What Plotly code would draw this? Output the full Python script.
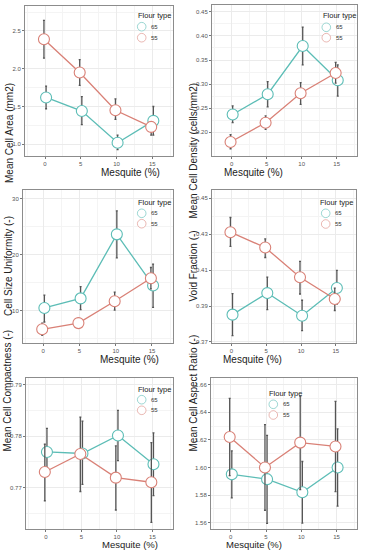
import plotly.graph_objects as go

W, H = 365, 550

mesquite = [0, 5, 10, 15]
flour_types = ["65", "55"]
legend_title = "Flour type"

# Panel 1: Mean Cell Area (mm2)
area_65 = [1.62, 1.44, 1.02, 1.31]
area_65_hi = [1.77, 1.63, 1.12, 1.50]
area_65_lo = [1.47, 1.26, 0.93, 1.12]
area_55 = [2.39, 1.95, 1.45, 1.23]
area_55_hi = [2.64, 2.12, 1.60, 1.27]
area_55_lo = [2.14, 1.78, 1.33, 1.12]

# Panel 2: Mean Cell Density (cells/mm2)
dens_65 = [0.237, 0.279, 0.379, 0.308]
dens_65_hi = [0.255, 0.305, 0.418, 0.340]
dens_65_lo = [0.220, 0.253, 0.340, 0.275]
dens_55 = [0.180, 0.220, 0.281, 0.323]
dens_55_hi = [0.195, 0.234, 0.303, 0.345]
dens_55_lo = [0.166, 0.206, 0.258, 0.302]

# Panel 3: Cell Size Uniformity (-)
unif_65 = [10.5, 12.2, 23.6, 14.5]
unif_65_hi = [12.8, 14.3, 27.8, 18.3]
unif_65_lo = [8.0, 10.2, 19.4, 10.6]
unif_55 = [6.7, 7.8, 11.7, 15.8]
unif_55_hi = [7.8, 8.7, 13.3, 17.7]
unif_55_lo = [5.6, 7.0, 10.1, 13.9]

# Panel 4: Void Fraction (-)
void_65 = [0.3852, 0.3972, 0.3846, 0.4000]
void_65_hi = [0.3969, 0.4061, 0.3932, 0.4098]
void_65_lo = [0.3735, 0.3880, 0.3763, 0.3910]
void_55 = [0.4311, 0.4226, 0.4060, 0.3939]
void_55_hi = [0.4393, 0.4274, 0.4148, 0.4000]
void_55_lo = [0.4232, 0.4170, 0.3967, 0.3875]

# Panel 5: Mean Cell Compactness (-)
comp_65 = [0.7769, 0.7766, 0.7801, 0.7745]
comp_65_hi = [0.7815, 0.7829, 0.7850, 0.7806]
comp_65_lo = [0.7723, 0.7706, 0.7752, 0.7684]
comp_55 = [0.7730, 0.7765, 0.7719, 0.7710]
comp_55_hi = [0.7784, 0.7837, 0.7781, 0.7787]
comp_55_lo = [0.7674, 0.7692, 0.7656, 0.7632]

# Panel 6: Mean Cell Aspect Ratio (-)
asp_65 = [1.595, 1.5915, 1.582, 1.600]
asp_65_hi = [1.612, 1.6232, 1.6043, 1.628]
asp_65_lo = [1.578, 1.5595, 1.5597, 1.572]
asp_55 = [1.622, 1.600, 1.618, 1.6152]
asp_55_hi = [1.650, 1.631, 1.6515, 1.6479]
asp_55_lo = [1.594, 1.569, 1.584, 1.5825]

x_title = "Mesquite (%)"
y_titles = ["Mean Cell Area (mm2)", "Mean Cell Density (cells/mm2)",
            "Cell Size Uniformity (-)", "Void Fraction (-)",
            "Mean Cell Compactness (-)", "Mean Cell Aspect Ratio (-)"]
y_ticks = [[1.0, 1.5, 2.0, 2.5], [0.20, 0.25, 0.30, 0.35, 0.40, 0.45],
           [10, 20, 30], [0.37, 0.39, 0.41, 0.43, 0.45],
           [0.77, 0.78, 0.79], [1.56, 1.58, 1.60, 1.62, 1.64, 1.66]]
y_ticktext = [["1.0", "1.5", "2.0", "2.5"],
              ["0.20", "0.25", "0.30", "0.35", "0.40", "0.45"],
              ["10", "20", "30"],
              ["0.37", "0.39", "0.41", "0.43", "0.45"],
              ["0.77", "0.78", "0.79"],
              ["1.56", "1.58", "1.60", "1.62", "1.64", "1.66"]]
x_ticktext = ["0", "5", "10", "15"]

panels = [
    (area_65, area_65_hi, area_65_lo, area_55, area_55_hi, area_55_lo),
    (dens_65, dens_65_hi, dens_65_lo, dens_55, dens_55_hi, dens_55_lo),
    (unif_65, unif_65_hi, unif_65_lo, unif_55, unif_55_hi, unif_55_lo),
    (void_65, void_65_hi, void_65_lo, void_55, void_55_hi, void_55_lo),
    (comp_65, comp_65_hi, comp_65_lo, comp_55, comp_55_hi, comp_55_lo),
    (asp_65, asp_65_hi, asp_65_lo, asp_55, asp_55_hi, asp_55_lo),
]

# layout (pixels): left, right, top, bottom of each plotting panel
boxes = [(25, 173, 6, 156), (212, 357, 5, 156),
         (23, 173, 190, 343), (212, 356, 190, 343),
         (26, 173, 378, 529), (211, 357, 378, 529)]
y_ranges = [(0.845, 2.83), (0.151, 0.464), (4.26, 31.5),
            (0.3694, 0.4546), (0.7619, 0.7913), (1.5554, 1.6648)]
ytitle_x = [10, 193, 8.5, 193, 7, 192.5]
xtitle_y = [172, 172, 359, 359, 544.5, 544.5]
xtitle_size = [10, 10, 10, 10, 9.5, 9.5]
# legend: title-left x, title y, symbol x, item ys
legend_px = [(136, 15.7, 141.7, (26.7, 37.7)),
             (320.5, 15.3, 326.3, (27.3, 37.7)),
             (136, 202.3, 141.7, (213.3, 223.7)),
             (318.3, 202.7, 325.7, (213.3, 224.0)),
             (136, 389, 141.7, (399.7, 410.3)),
             (267.3, 393.3, 273.3, (404.3, 415.0))]

col = {"65": "#5cbdb6", "55": "#d98076"}
col_pale = {"65": "rgba(92,189,182,0.6)", "55": "rgba(217,128,118,0.55)"}
dodge = {"65": 0.15, "55": -0.15}
x_range = [-2.8, 17.9]

fig = go.Figure()
layout = dict(width=W, height=H,
              margin=dict(l=0, r=0, t=0, b=0, pad=0, autoexpand=False),
              paper_bgcolor="white", plot_bgcolor="white", showlegend=False,
              font=dict(family="Liberation Sans, Arial", color="#333"))
annotations = []
shapes = []

for i, (p, box) in enumerate(zip(panels, boxes)):
    n = i + 1
    xa = "x" if n == 1 else f"x{n}"
    ya = "y" if n == 1 else f"y{n}"
    l, r, t, b = box
    series = {"65": p[0:3], "55": p[3:6]}
    for ft in flour_types:
        v, hi, lo = series[ft]
        xs = [m + dodge[ft] for m in mesquite]
        fig.add_trace(go.Scatter(
            x=xs, y=v, mode="lines+markers", xaxis=xa, yaxis=ya, name=ft,
            line=dict(color=col[ft], width=1.3),
            marker=dict(size=11, color="white", line=dict(color=col[ft], width=1.1)),
            error_y=dict(type="data", symmetric=False,
                         array=[h - c for h, c in zip(hi, v)],
                         arrayminus=[c - q for c, q in zip(v, lo)],
                         color="#555555", thickness=1.3, width=1),
            showlegend=False, cliponaxis=False))

    xkey = "xaxis" if n == 1 else f"xaxis{n}"
    ykey = "yaxis" if n == 1 else f"yaxis{n}"
    layout[xkey] = dict(
        domain=[l / W, r / W], anchor=ya, range=x_range, automargin=False,
        tickmode="array", tickvals=mesquite, ticktext=x_ticktext,
        tickfont=dict(size=6, color="#555"), ticks="outside", ticklen=1.5,
        tickcolor="#777", showgrid=True, gridcolor="#ebebeb", gridwidth=0.8,
        minor=dict(tickmode="array", tickvals=[-2.5, 2.5, 7.5, 12.5, 17.5],
                   showgrid=True, gridcolor="#f4f4f4", gridwidth=0.6),
        showline=True, linecolor="#8c8c8c", linewidth=1, mirror=True,
        zeroline=False, fixedrange=True)
    yt = y_ticks[i]
    step = yt[1] - yt[0]
    mins = [yt[0] - step / 2] + [a + step / 2 for a in yt]
    layout[ykey] = dict(
        domain=[1 - b / H, 1 - t / H], anchor=xa, range=list(y_ranges[i]),
        automargin=False,
        tickmode="array", tickvals=yt, ticktext=y_ticktext[i],
        tickfont=dict(size=6, color="#555"), ticks="outside", ticklen=2,
        tickcolor="#777", showgrid=True, gridcolor="#ebebeb", gridwidth=0.8,
        minor=dict(tickmode="array", tickvals=mins,
                   showgrid=True, gridcolor="#f4f4f4", gridwidth=0.6),
        showline=True, linecolor="#8c8c8c", linewidth=1, mirror=True,
        zeroline=False, fixedrange=True)

    # legend (title + keys)
    tx, ty, sx, iys = legend_px[i]
    annotations.append(dict(text=legend_title, x=tx / W, y=1 - ty / H,
                            xref="paper", yref="paper", showarrow=False,
                            xanchor="left", yanchor="middle",
                            font=dict(size=7.5, color="#222")))
    for ft, iy in zip(flour_types, iys):
        rad = 4.3
        shapes.append(dict(type="circle", xref="paper", yref="paper",
                           x0=(sx - rad) / W, x1=(sx + rad) / W,
                           y0=1 - (iy + rad) / H, y1=1 - (iy - rad) / H,
                           fillcolor="white", line=dict(color=col_pale[ft], width=1)))
        annotations.append(dict(text=ft, x=(sx + 7.5) / W, y=1 - iy / H,
                                xref="paper", yref="paper", showarrow=False,
                                xanchor="left", yanchor="middle",
                                font=dict(size=6, color="#333")))

    # axis titles
    annotations.append(dict(text=x_title, x=(l + r) / 2 / W, y=1 - xtitle_y[i] / H,
                            xref="paper", yref="paper", showarrow=False,
                            font=dict(size=xtitle_size[i], color="#222"),
                            yanchor="middle"))
    annotations.append(dict(text=y_titles[i], x=ytitle_x[i] / W, y=1 - (t + b) / 2 / H,
                            xref="paper", yref="paper", showarrow=False, textangle=-90,
                            font=dict(size=10, color="#222"), xanchor="center"))

layout["annotations"] = annotations
layout["shapes"] = shapes
fig.update_layout(**layout)
fig.write_html("out.html", config={"displayModeBar": False},
               post_script="document.body.style.margin='0';")
